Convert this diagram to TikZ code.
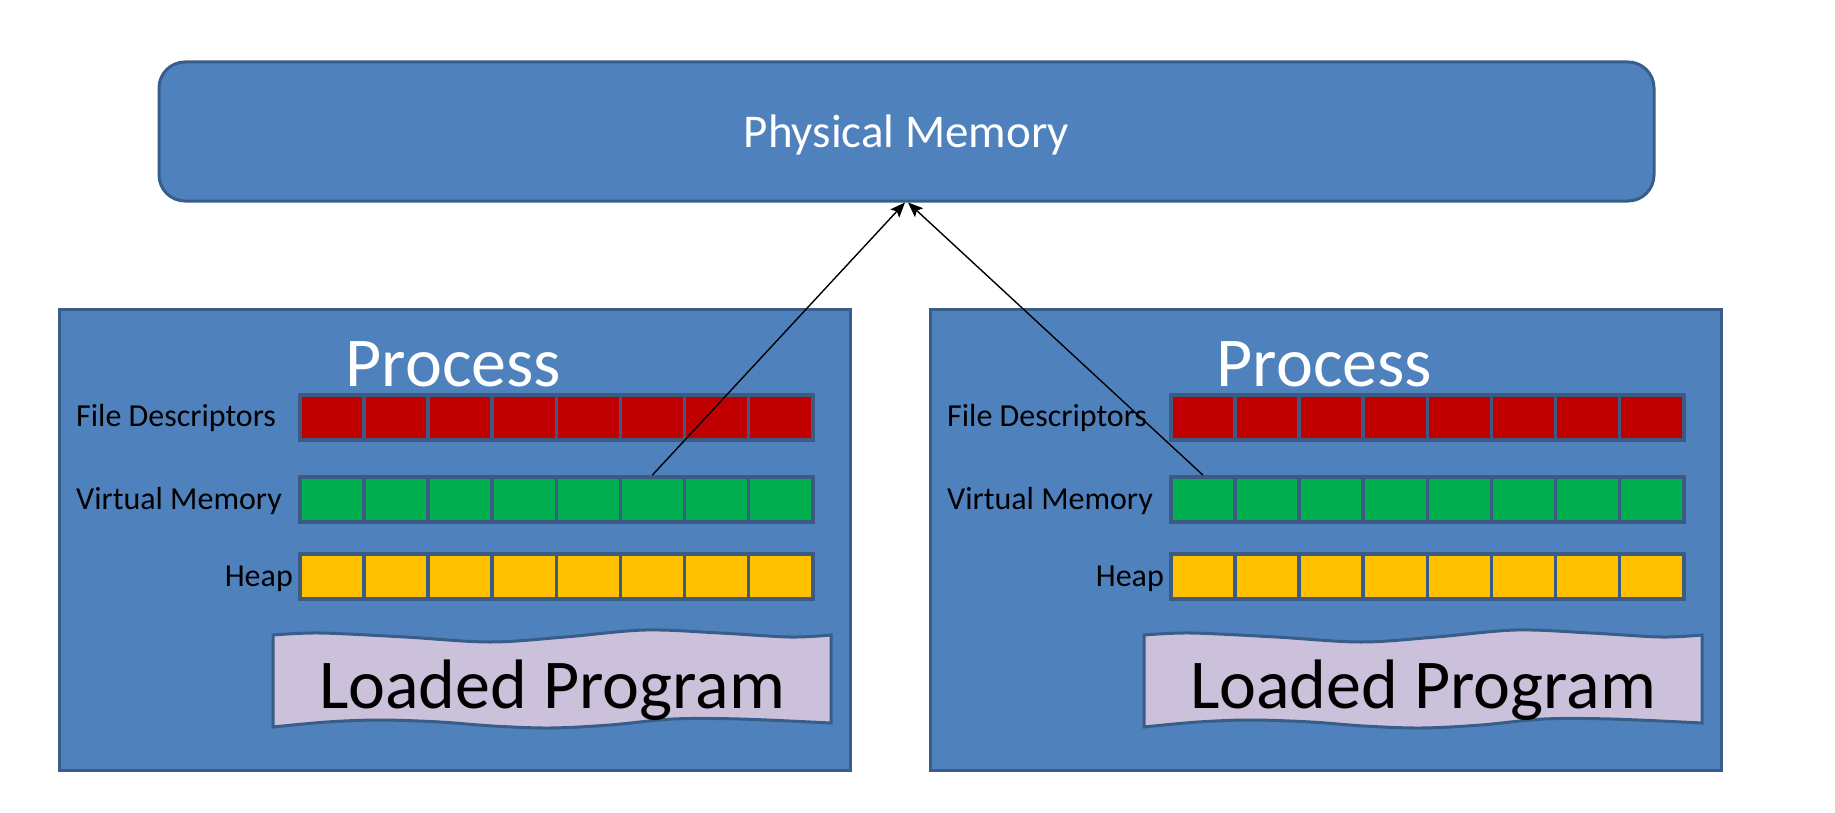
\documentclass[tikz,border=0pt]{standalone}
\usepackage{fontspec}
\setmainfont{Carlito}
\usetikzlibrary{arrows.meta,calc}
\definecolor{boxfill}{HTML}{4F81BD}
\definecolor{boxline}{HTML}{385D8A}
\definecolor{fdred}{HTML}{C00000}
\definecolor{vmgreen}{HTML}{00B050}
\definecolor{heapyel}{HTML}{FFC000}
\definecolor{progfill}{HTML}{CCC1DA}
\definecolor{cellline}{HTML}{3B5B84}
\begin{document}
\begin{tikzpicture}[x=1pt,y=-1pt,
  procbox/.style={draw=boxline, fill=boxfill, line width=3pt, minimum width=791pt, minimum height=461pt, inner sep=0pt, anchor=north west},
  pmbox/.style={draw=boxline, fill=boxfill, line width=3pt, minimum width=1495pt, minimum height=139pt, rounded corners=26pt, inner sep=0pt, text=white, text depth=0pt, font=\fontsize{47}{56}\selectfont},
  cell/.style={draw=cellline, line width=3.5pt, minimum width=64.125pt, minimum height=45pt, inner sep=0pt, anchor=north west},
  lbl/.style={font=\fontsize{32}{38}\selectfont, inner sep=0pt},
  bigtxt/.style={font=\fontsize{70}{84}\selectfont, inner sep=0pt, anchor=base},
  wave/.style={draw=boxline, fill=progfill, line width=3pt},
  link/.style={draw=black, line width=1.4pt, -{Stealth[length=15pt,width=12pt,inset=3pt]}}
]
\useasboundingbox (0,0) rectangle (1835,813);
\fill[white] (0,0) rectangle (1835,813);
\node[pmbox] (pm) at (906.5,131.5) {Physical Memory};
\foreach \p/\ox in {L/0,R/871}{
\begin{scope}[xshift=\ox pt]
  \node[procbox] (\p-box) at (58,308) {};
  \node[bigtxt, text=white] (\p-title) at (453.5,386) {Process};
  \foreach \i in {1,...,8}{
    \node[cell, fill=fdred] (\p-fd-\i) at ({298+64.125*(\i-1)},393) {};
    \node[cell, fill=vmgreen] (\p-vm-\i) at ({298+64.125*(\i-1)},475) {};
    \node[cell, fill=heapyel] (\p-heap-\i) at ({298+64.125*(\i-1)},552) {};
  }
  \node[lbl, anchor=base west] (\p-fdl) at (76,426) {File Descriptors};
  \node[lbl, anchor=base west] (\p-vml) at (76,509) {Virtual Memory};
  \node[lbl, anchor=base east] (\p-hpl) at (293,586) {Heap};
  \draw[wave] plot[smooth, tension=0.55] coordinates {(273,635) (320,633) (405,637) (490,642) (565,637) (645,630) (720,633) (790,637) (831,635)}
     -- plot[smooth, tension=0.55] coordinates {(831,723) (740,719) (673,719) (610,725) (550,728) (493,726) (440,722) (380,720) (327,722) (273,727)} -- cycle;
  \node[bigtxt] (\p-prog) at (552,708) {Loaded Program};
\end{scope}
}
\draw[link] (L-vm-6.north) -- ($(pm.south)+(-1.5,0)$);
\draw[link] (R-vm-1.north) -- ($(pm.south)+(1.5,0)$);
\end{tikzpicture}
\end{document}
